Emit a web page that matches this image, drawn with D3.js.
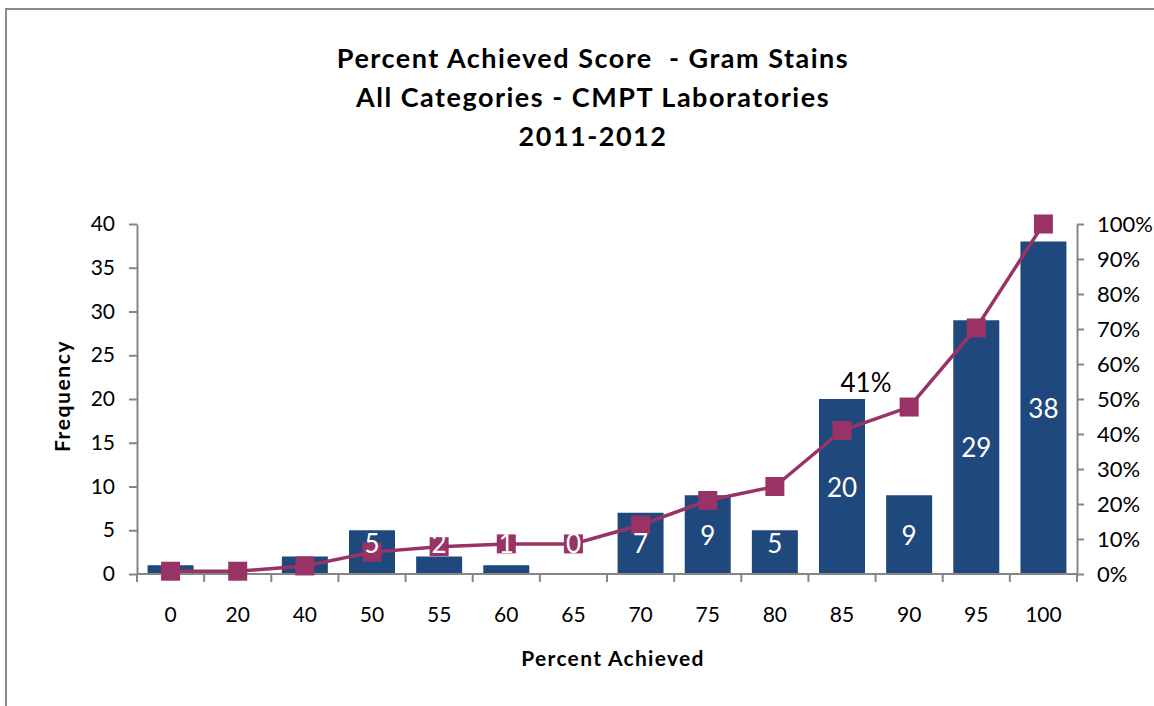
<!DOCTYPE html>
<html><head><meta charset="utf-8">
<script src="https://cdn.jsdelivr.net/npm/d3@7"></script>
<style>
html,body{margin:0;padding:0;background:#fff;}
svg{display:block;}
text{font-family:Lato, "Open Sans", sans-serif;}
</style></head>
<body>
<svg id="chart" width="1154" height="706"></svg>
<script>
const categories = ["0","20","40","50","55","60","65","70","75","80","85","90","95","100"];
const frequency = [1,0,2,5,2,1,0,7,9,5,20,9,29,38];
const cumulativePct = [0.008,0.008,0.023,0.0625,0.078,0.086,0.086,0.14,0.21,0.25,0.41,0.477,0.703,1.0];
const showBarLabel = [false,false,false,true,true,true,true,true,true,true,true,true,true,true];
const leftTicks = [0,5,10,15,20,25,30,35,40];
const rightTicks = [0,0.1,0.2,0.3,0.4,0.5,0.6,0.7,0.8,0.9,1.0];
const titleLines = ["Percent Achieved Score  - Gram Stains","All Categories - CMPT Laboratories","2011-2012"];
const highlightIndex = 10; // 85 -> "41%"

const BAR = "#1F497D", LINE = "#993366", AXIS = "#868686";
const svg = d3.select("#chart");
const L = 137, R = 1077, T = 224, B = 574;

// frame
svg.append("rect").attr("x",6).attr("y",9).attr("width",1300).attr("height",900)
  .attr("fill","none").attr("stroke","#8a8a8a").attr("stroke-width",2);

const x = d3.scaleBand().domain(categories).range([L,R]).paddingInner(0.315).paddingOuter(0.1575);
const y = d3.scaleLinear().domain([0,40]).range([B,T]);
const y2 = d3.scaleLinear().domain([0,1]).range([B,T]);
const cx = d => x(d) + x.bandwidth()/2;

// title
svg.append("g").selectAll("text").data(titleLines).join("text")
  .attr("x",593).attr("y",(d,i)=>68+i*39).attr("text-anchor","middle")
  .attr("font-weight","bold").attr("font-size",27).attr("letter-spacing",1.5).attr("fill","#000")
  .style("white-space","pre").text(d=>d);

// bars
svg.append("g").selectAll("rect").data(frequency).join("rect")
  .attr("x",(d,i)=>x(categories[i])).attr("width",x.bandwidth())
  .attr("y",d=>y(d)).attr("height",d=>B-y(d)).attr("fill",BAR);

// left axis
const gL = svg.append("g").attr("transform",`translate(${L},0)`)
  .call(d3.axisLeft(y).tickValues(leftTicks).tickSize(8).tickSizeOuter(0).tickPadding(14));
// right axis
const gR = svg.append("g").attr("transform",`translate(${R},0)`)
  .call(d3.axisRight(y2).tickValues(rightTicks).tickFormat(d3.format(".0%")).tickSize(7).tickSizeOuter(0).tickPadding(13));
// bottom axis labels
const gB = svg.append("g").attr("transform",`translate(0,${B})`)
  .call(d3.axisBottom(x).tickSize(0).tickPadding(33));
gB.select(".domain").remove();
// bottom axis line + boundary ticks
const step = x.step();
const boundaries = categories.map(c => cx(c) - step/2).concat([cx(categories[categories.length-1]) + step/2]);
svg.append("line").attr("x1",L).attr("x2",R).attr("y1",B).attr("y2",B).attr("stroke",AXIS).attr("stroke-width",2);
svg.append("g").selectAll("line").data(boundaries).join("line")
  .attr("x1",d=>d).attr("x2",d=>d).attr("y1",B).attr("y2",B+8).attr("stroke",AXIS).attr("stroke-width",2);

[gL,gR,gB].forEach(g=>{
  g.selectAll(".domain").attr("stroke",AXIS).attr("stroke-width",2);
  g.selectAll(".tick line").attr("stroke",AXIS).attr("stroke-width",2);
  g.selectAll(".tick text").attr("font-size",21).attr("fill","#000").style("font-family","Lato, sans-serif");
});
gR.selectAll(".tick text").attr("font-size",22);

// line
const line = d3.line().x((d,i)=>cx(categories[i])).y(d=>y2(d));
svg.append("path").datum(cumulativePct).attr("d",line).attr("fill","none")
  .attr("stroke",LINE).attr("stroke-width",3.5);
const ms = 19;
svg.append("g").selectAll("rect").data(cumulativePct).join("rect")
  .attr("x",(d,i)=>cx(categories[i])-ms/2).attr("y",d=>y2(d)-ms/2)
  .attr("width",ms).attr("height",ms).attr("fill",LINE);

// bar labels
svg.append("g").selectAll("text").data(frequency.map((v,i)=>({v,i})).filter(d=>showBarLabel[d.i])).join("text")
  .attr("x",d=>cx(categories[d.i])).attr("y",d=>y(Math.max(d.v/2,3.5)))
  .attr("text-anchor","middle").attr("dominant-baseline","central")
  .attr("font-size",26).attr("fill","#fff").text(d=>d.v);

// highlight label
svg.append("text").attr("x",cx(categories[highlightIndex])+24).attr("y",y2(cumulativePct[highlightIndex])-49)
  .attr("text-anchor","middle").attr("dominant-baseline","central")
  .attr("font-size",26).attr("fill","#000").text(d3.format(".0%")(cumulativePct[highlightIndex]));

// axis titles
svg.append("text").attr("x",613).attr("y",666).attr("text-anchor","middle")
  .attr("font-weight","bold").attr("font-size",21).attr("letter-spacing",1.3).text("Percent Achieved");
svg.append("text").attr("transform","translate(70,396) rotate(-90)").attr("text-anchor","middle")
  .attr("font-weight","bold").attr("font-size",21).attr("letter-spacing",1.6).text("Frequency");
</script>
</body></html>
